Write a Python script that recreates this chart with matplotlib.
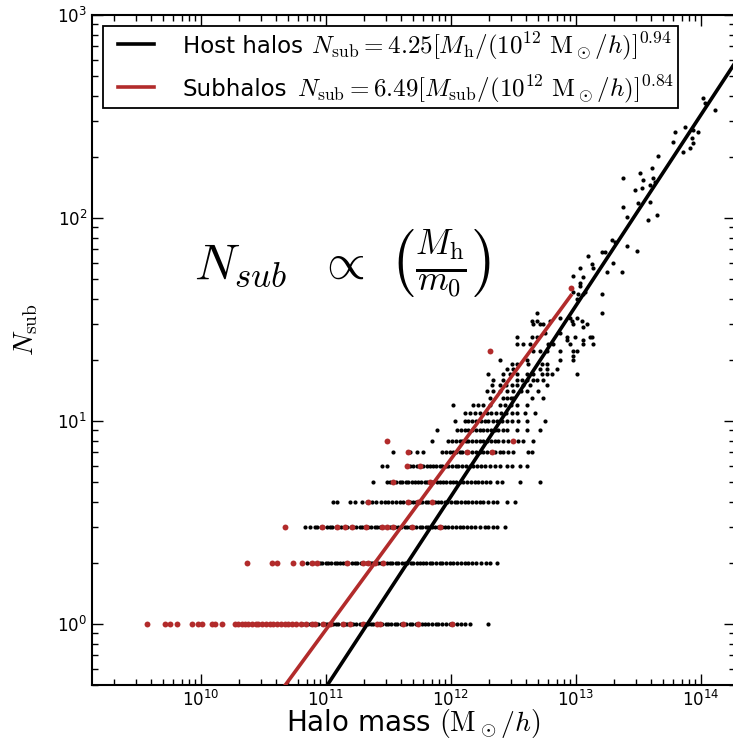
import numpy as np
import matplotlib.pyplot as plt
from matplotlib.legend_handler import HandlerLine2D
from matplotlib.lines import Line2D

plt.rcParams["mathtext.fontset"] = "cm"
plt.rcParams["font.family"] = "DejaVu Sans"

# host halos: log10 mass along each occupancy row
host_n1 = [10.80, 10.82, 10.85, 10.87, 10.90, 10.92, 10.94, 10.97, 10.99, 11.01, 11.04, 11.06,
           11.08, 11.10, 11.13, 11.15, 11.17, 11.20, 11.22, 11.24, 11.27, 11.29, 11.31, 11.34,
           11.36, 11.38, 11.41, 11.43, 11.45, 11.48, 11.50, 11.52, 11.55, 11.57, 11.60, 11.62,
           11.64, 11.67, 11.69, 11.72, 11.74, 11.77, 11.79, 11.82, 11.85, 11.88, 11.90, 11.93,
           11.96, 11.99, 12.02, 12.05, 12.08, 12.11, 12.15, 12.30]
host_n2 = [10.85, 10.88, 10.90, 10.92, 10.95, 10.97, 11.00, 11.02, 11.04, 11.07, 11.09, 11.11,
           11.14, 11.16, 11.18, 11.21, 11.23, 11.25, 11.28, 11.30, 11.32, 11.35, 11.37, 11.39,
           11.42, 11.44, 11.46, 11.49, 11.51, 11.53, 11.56, 11.58, 11.61, 11.63, 11.65, 11.68,
           11.70, 11.73, 11.75, 11.78, 11.80, 11.83, 11.85, 11.88, 11.91, 11.93, 11.96, 11.99,
           12.02, 12.05, 12.08, 12.11, 12.14, 12.17, 12.20, 12.24, 12.28, 12.31, 12.37]
host_n3 = [10.83, 10.87, 10.91, 10.93, 10.96, 10.98, 11.01, 11.03, 11.05, 11.08, 11.10, 11.12,
           11.15, 11.17, 11.20, 11.22, 11.24, 11.27, 11.29, 11.31, 11.34, 11.36, 11.39, 11.41,
           11.43, 11.46, 11.48, 11.51, 11.53, 11.55, 11.58, 11.60, 11.63, 11.65, 11.67, 11.70,
           11.72, 11.75, 11.77, 11.80, 11.82, 11.85, 11.87, 11.90, 11.93, 11.95, 11.98, 12.01,
           12.04, 12.07, 12.10, 12.13, 12.16, 12.19, 12.23, 12.27, 12.30, 12.34, 12.37, 12.43]
host_n4 = [11.06, 11.09, 11.19, 11.23, 11.29, 11.33, 11.37, 11.40, 11.44, 11.47, 11.50, 11.53,
           11.56, 11.59, 11.62, 11.65, 11.67, 11.70, 11.72, 11.75, 11.77, 11.80, 11.82, 11.85,
           11.87, 11.90, 11.92, 11.95, 11.97, 12.00, 12.03, 12.05, 12.08, 12.11, 12.14, 12.17,
           12.20, 12.23, 12.26, 12.30, 12.34, 12.37, 12.45, 12.51]
host_n5 = [11.38, 11.49, 11.51, 11.54, 11.56, 11.59, 11.61, 11.64, 11.66, 11.69, 11.71, 11.74,
           11.76, 11.79, 11.81, 11.84, 11.86, 11.89, 11.91, 11.94, 11.96, 11.99, 12.02, 12.04,
           12.07, 12.10, 12.13, 12.16, 12.19, 12.22, 12.25, 12.28, 12.31, 12.37, 12.41, 12.55, 12.71]
host_n6 = [11.45, 11.49, 11.67, 11.70, 11.73, 11.76, 11.78, 11.81, 11.83, 11.86, 11.88, 11.91,
           11.93, 11.96, 11.98, 12.01, 12.04, 12.06, 12.09, 12.12, 12.15, 12.18, 12.21, 12.24,
           12.27, 12.31, 12.35, 12.39, 12.45, 12.49, 12.55, 12.61]
host_n7 = [11.54, 11.67, 11.73, 11.78, 11.93, 11.96, 11.99, 12.02, 12.04, 12.07, 12.09, 12.12,
           12.14, 12.17, 12.20, 12.23, 12.26, 12.29, 12.32, 12.35, 12.39, 12.42, 12.46, 12.50,
           12.62, 12.65]
host_n8 = [11.85, 11.98, 12.01, 12.04, 12.07, 12.09, 12.12, 12.14, 12.17, 12.20, 12.23, 12.26,
           12.29, 12.32, 12.35, 12.38, 12.42, 12.46, 12.50, 12.54, 12.58, 12.66]

# host halos with more subhalos: (log10 mass, N_sub)
host_cloud = [
    (11.89, 9), (12.05, 9), (12.08, 9), (12.11, 9), (12.14, 9), (12.17, 9), (12.20, 9),
    (12.23, 9), (12.26, 9), (12.29, 9), (12.32, 9), (12.35, 9), (12.38, 9), (12.42, 9),
    (12.45, 9), (12.53, 9), (12.61, 9), (12.71, 9),
    (12.03, 10), (12.11, 10), (12.14, 10), (12.17, 10), (12.20, 10), (12.24, 10), (12.27, 10),
    (12.30, 10), (12.34, 10), (12.37, 10), (12.41, 10), (12.45, 10), (12.49, 10), (12.54, 10),
    (12.61, 10), (12.75, 10),
    (12.11, 11), (12.15, 11), (12.19, 11), (12.23, 11), (12.29, 11), (12.32, 11), (12.36, 11),
    (12.40, 11), (12.44, 11), (12.49, 11), (12.53, 11), (12.59, 11), (12.67, 11),
    (12.02, 12), (12.18, 12), (12.22, 12), (12.26, 12), (12.31, 12), (12.39, 12), (12.43, 12),
    (12.48, 12), (12.53, 12), (12.61, 12),
    (12.31, 13), (12.42, 13), (12.45, 13), (12.48, 13), (12.50, 13), (12.65, 13), (12.74, 13),
    (12.29, 14), (12.34, 14), (12.39, 14), (12.45, 14), (12.50, 14), (12.56, 14), (12.61, 14),
    (12.70, 14),
    (12.33, 15), (12.39, 15), (12.44, 15), (12.49, 15), (12.53, 15), (12.58, 15), (12.63, 15),
    (12.77, 15),
    (12.34, 16), (12.42, 16), (12.53, 16), (12.57, 16), (12.61, 16), (12.66, 16), (12.69, 16),
    (12.74, 16),
    (12.30, 17), (12.42, 17), (12.47, 17), (12.53, 17), (12.61, 17), (12.66, 17), (12.73, 17),
    (12.77, 17), (12.81, 17), (13.01, 17),
    (12.45, 18), (12.50, 18), (12.71, 18), (12.77, 18), (12.85, 18),
    (12.49, 19), (12.53, 19), (12.62, 19), (12.73, 19), (12.77, 19),
    (12.39, 20), (12.61, 20), (12.87, 20), (12.98, 20), (12.98, 21),
    (12.66, 22), (12.71, 22), (12.77, 22), (12.87, 22), (12.98, 22), (13.01, 22),
    (12.53, 24), (12.58, 24), (12.63, 24), (12.78, 24), (12.82, 24), (12.95, 24), (13.06, 24),
    (13.14, 24), (12.93, 25), (13.06, 25),
    (12.53, 26), (12.65, 26), (12.69, 26), (12.93, 26), (12.99, 26), (13.11, 26), (13.13, 26),
    (12.75, 27), (12.87, 27), (13.06, 29),
    (12.66, 30), (12.71, 30), (12.74, 30), (12.98, 30), (13.09, 30),
    (12.65, 31), (12.69, 31), (12.79, 31), (12.97, 31), (13.05, 31),
    (12.87, 32), (12.95, 32), (13.01, 32), (12.69, 34), (13.21, 34),
    (13.01, 40), (13.02, 42), (13.06, 42), (13.21, 42), (12.98, 43), (13.07, 43), (13.03, 46),
    (13.03, 48), (13.06, 51), (12.98, 52), (13.25, 54), (13.37, 54), (13.03, 57), (13.14, 57),
    (13.13, 59), (13.30, 60), (13.10, 65), (13.21, 68), (13.23, 68), (13.49, 69), (13.41, 73),
    (13.31, 76), (13.29, 78), (13.58, 98), (13.41, 101), (13.65, 103), (13.38, 113),
    (13.50, 118), (13.59, 120), (13.47, 137), (13.53, 140), (13.59, 145), (13.63, 150),
    (13.54, 154), (13.38, 157), (13.62, 157), (13.51, 167), (13.61, 176), (13.66, 203),
    (13.86, 211), (13.91, 221), (13.94, 234), (13.78, 236), (13.93, 248), (13.79, 265),
    (13.98, 265), (13.94, 272), (13.87, 281), (14.11, 342), (14.03, 370), (14.02, 389),
]

# subhalos: log10 mass and N_sub
sub_logm = [9.57, 9.71, 9.75, 9.81, 9.93, 9.98, 10.01, 10.09, 10.11, 10.17, 10.27, 10.30,
            10.33, 10.35, 10.38, 10.41, 10.44, 10.46, 10.49, 10.52, 10.55, 10.58, 10.61,
            10.64, 10.67, 10.70, 10.73, 10.76, 10.80, 10.84, 10.89, 10.91, 10.98, 11.03,
            11.14, 11.19, 11.30, 11.41, 11.43, 11.62, 11.74, 12.01,
            10.37, 10.57, 10.61, 10.74, 10.81, 10.89, 10.93, 11.17, 11.30, 11.34, 11.39, 11.46,
            10.67, 10.97, 11.09, 11.15, 11.21, 11.32, 11.45, 11.49, 11.54, 11.69, 11.91,
            11.34, 11.66, 11.74, 11.85, 11.54, 11.83, 11.65, 11.75, 11.66, 12.13, 12.33,
            11.49, 12.50, 12.31, 12.96]
sub_n = [1] * 42 + [2] * 12 + [3] * 11 + [4] * 4 + [5] * 2 + [6] * 2 + [7] * 3 + [8] * 2 + [22, 45]

# power-law fits N_sub = A (M / 1e12)^alpha
host_amp, host_slope = 4.25, 0.94
sub_amp, sub_slope = 6.49, 0.84
host_fit_mass = [1e11, 2.5e14]
sub_fit_mass = [3e10, 9.1e12]

legend_names = ["Host halos", "Subhalos"]
host_formula = r"$\hspace{5.85}N_{\rm sub} = 4.25[M_{\rm h}/(10^{12}\ \mathrm{M}_\odot/h)]^{0.94}$"
sub_formula = r"$\hspace{5.2}N_{\rm sub} = 6.49[M_{\rm sub}/(10^{12}\ \mathrm{M}_\odot/h)]^{0.84}$"

red = "#b22b2b"

fig = plt.figure(figsize=(7.33, 7.45), dpi=100)
ax = fig.add_axes([0.1255, 0.0805, 0.8772, 0.8994])

rows = [host_n1, host_n2, host_n3, host_n4, host_n5, host_n6, host_n7, host_n8]
hx, hy = [], []
for n, row in enumerate(rows, start=1):
    hx += row
    hy += [n] * len(row)
hx += [c[0] for c in host_cloud]
hy += [c[1] for c in host_cloud]

ax.scatter(10 ** np.array(hx), hy, s=9, color="black", linewidths=0, zorder=2)
ax.scatter(10 ** np.array(sub_logm), sub_n, s=18, color=red, linewidths=0, zorder=3)

hm = np.array(host_fit_mass)
sm = np.array(sub_fit_mass)
ax.plot(hm, host_amp * (hm / 1e12) ** host_slope, color="black", lw=2.6, zorder=4,
        label=host_formula)
ax.plot(sm, sub_amp * (sm / 1e12) ** sub_slope, color=red, lw=2.6, zorder=4,
        label=sub_formula)

ax.set_xscale("log")
ax.set_yscale("log")
ax.set_xlim(10 ** 9.128, 10 ** 14.272)
ax.set_ylim(0.5, 1000)

ax.tick_params(which="both", direction="in", top=True, right=True, labelsize=12, width=1)
ax.tick_params(which="major", length=8)
ax.tick_params(which="minor", length=4)
for s in ax.spines.values():
    s.set_linewidth(1.5)

ax.set_xlabel(r"Halo mass $(\mathrm{M}_\odot/h)$", fontsize=20, labelpad=-2)
ax.set_ylabel(r"$N_{\rm sub}$", fontsize=20)
ax.yaxis.set_label_coords(-0.081, 0.53)

ax.text(0.39, 0.628, r"$N_{sub}\ \ \propto\ \left(\frac{M_{\rm h}}{m_0}\right)$",
        transform=ax.transAxes, fontsize=36, ha="center", va="center")

leg = ax.legend(loc="upper left", fontsize=18, fancybox=False, framealpha=1,
                edgecolor="black", borderaxespad=0.45, handlelength=1.9,
                handletextpad=1.14, borderpad=0.15, labelspacing=0.45,
                handler_map={Line2D: HandlerLine2D(xpad=0.44)})
leg.get_frame().set_linewidth(1.3)

# plain-text names sit in the room kept free at the start of each legend label
fig.canvas.draw()
renderer = fig.canvas.get_renderer()
for txt, name in zip(leg.get_texts(), legend_names):
    prop = txt.get_fontproperties()
    _, h, d = renderer.get_text_width_height_descent(txt.get_text(), prop, ismath=True)
    _, lp_h, lp_d = renderer.get_text_width_height_descent("lp", prop, ismath=False)
    ax.annotate(name, xy=(0, max(d, lp_d) / max(h, lp_h)), xycoords=txt, fontsize=16.5,
                ha="left", va="baseline", zorder=6)

fig.savefig("out.png", dpi=100)
